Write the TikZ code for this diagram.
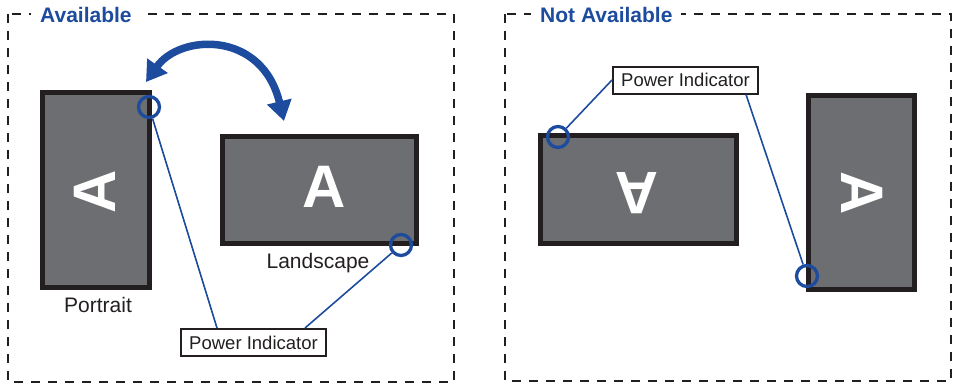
\documentclass[tikz,border=0pt]{standalone}
\usepackage{fontspec}
\setmainfont{Liberation Sans}
\usetikzlibrary{arrows.meta,calc}
\definecolor{pblue}{HTML}{1D4B9D}
\definecolor{pdark}{HTML}{231F20}
\definecolor{pgray}{HTML}{6D6E71}
\tikzset{
  zone/.style={draw=pdark, line width=2pt, dash pattern=on 9pt off 8pt},
  zonetitle/.style={fill=white, inner xsep=9pt, inner ysep=2pt, anchor=base west, text=pblue, font=\fontsize{21}{24}\selectfont\bfseries},
  screen/.style={draw=pdark, line width=5pt, fill=pgray, inner sep=0pt},
  bigA/.style={text=white, inner sep=0pt, font=\fontsize{60}{60}\selectfont\bfseries},
  led/.style={circle, draw=pblue, line width=3.3pt, minimum size=21pt, inner sep=0pt},
  lbl/.style={text=pdark, inner sep=0pt, anchor=base, font=\fontsize{21}{24}\selectfont},
  pibox/.style={draw=pdark, line width=2pt, fill=white, inner sep=0pt, minimum width=145pt, minimum height=27pt, text=pdark, font=\fontsize{18.5}{20}\selectfont},
  leader/.style={draw=pblue, line width=1.6pt},
}
\begin{document}
\begin{tikzpicture}[x=1pt,y=-1pt]
\useasboundingbox (0,0) rectangle (953,384);
% zones
\draw[zone] (8,14) rectangle (454,382);
\draw[zone] (505,14) rectangle (951,381);
\node[zonetitle] (t1) at (31,22) {Available};
\node[zonetitle] (t2) at (531,22) {Not Available};
% available: portrait
\node[screen, minimum width=107pt, minimum height=195pt] (s1) at (96,190) {};
\node[bigA, rotate=90] (a1) at (95,192) {A};
\node[lbl] (l1) at (98,312) {Portrait};
% available: landscape
\node[screen, minimum width=194pt, minimum height=107pt] (s2) at (319.5,190) {};
\node[bigA] (a2) at (324,187) {A};
\node[lbl] (l2) at (318,268) {Landscape};
% rotation arrow
\coordinate (arL) at (146,82);
\coordinate (arR) at (284,121);
\draw[pblue, line width=7.5pt, {Triangle[length=20pt,width=24pt]}-{Triangle[length=20pt,width=24pt]}]
  (arL) .. controls (180,34) and (262,30) .. (arR);
% power indicators (available)
\node[led] (c1) at (149,107) {};
\node[led] (c2) at (401,245) {};
\node[pibox] (pi1) at (253.5,342.5) {Power Indicator};
\path (pi1.north west) ++(37,0) coordinate (pa);
\path (pi1.north west) ++(125,0) coordinate (pb);
\draw[leader] (c1) -- (pa);
\draw[leader] (c2) -- (pb);
% not available: landscape upside down
\node[screen, minimum width=196pt, minimum height=108pt] (s3) at (638.5,189.5) {};
\node[bigA, rotate=180] (a3) at (637,193) {A};
% not available: portrait rotated the other way
\node[screen, minimum width=106pt, minimum height=194pt] (s4) at (861.5,192.5) {};
\node[bigA, rotate=-90] (a4) at (862,193) {A};
\node[led] (c3) at (558,137) {};
\node[led] (c4) at (807,276) {};
\node[pibox] (pi2) at (685.5,80) {Power Indicator};
\path (pi2.south east) ++(-13,0) coordinate (pc);
\draw[leader] (c3) -- (pi2.west);
\draw[leader] (c4) -- (pc);
\end{tikzpicture}
\end{document}
